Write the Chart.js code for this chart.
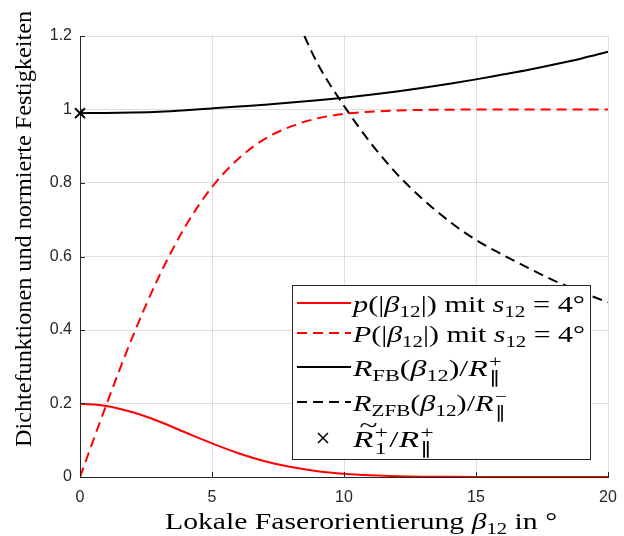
<!DOCTYPE html>
<html>
<head>
<meta charset="utf-8">
<script src="https://cdn.jsdelivr.net/npm/chart.js@4"></script>
<style>body{margin:0;background:#fff}</style>
</head>
<body>
<canvas id="chart" width="624" height="536"></canvas>
<script>
// values
const beta = [0,1,2,3,4,5,6,7,8,9,10,11,12,13,14,15,16,17,18,19,20];
const pDensity = [0.1995,0.1935,0.176,0.151,0.121,0.0915,0.0648,0.0431,0.027,0.0159,0.0088,0.0046,0.0022,0.001,0.0004,0.0002,0.0001,0,0,0,0];
const PDistribution = [0,0.197,0.383,0.547,0.683,0.789,0.866,0.92,0.954,0.976,0.988,0.994,0.997,0.999,0.9995,1,1,1,1,1,1];
const rFB = [0.99,0.9905,0.9918,0.994,0.998,1.003,1.008,1.013,1.019,1.025,1.032,1.04,1.049,1.059,1.07,1.082,1.095,1.108,1.123,1.139,1.157];
const zfbBeta = [8,9,10,11,12,13,14,15,16,17,18,19,20];
const rZFB = [1.28,1.125,1.01,0.91,0.825,0.755,0.695,0.645,0.605,0.568,0.533,0.503,0.475];
const markerBeta = [0];
const markerVal = [0.99];
const xTicks = [0,5,10,15,20];
const yTicks = [0,0.2,0.4,0.6,0.8,1,1.2];
const yTickLabels = ['0','0.2','0.4','0.6','0.8','1','1.2'];

const pts = (xs, ys) => xs.map((x, i) => ({x: x, y: ys[i]}));
const SERIF = '"Liberation Serif"';
const AX = '#262626';

// draws text with sub/superscripts, returns end x
function rich(ctx, x, y, parts, size) {
  for (const p of parts) {
    if (p.sup !== undefined) {
      const fs = size * 0.7;
      ctx.font = fs + 'px ' + SERIF;
      ctx.fillText(p.sup, x + 1, y - size * 0.38);
      ctx.fillText(p.sub, x + 1, y + size * 0.3);
      x += Math.max(ctx.measureText(p.sup).width, ctx.measureText(p.sub).width) + 2;
      continue;
    }
    let fs = size, dy = 0;
    if (p.pos === 'sub') { fs = size * 0.7; dy = size * 0.22; }
    if (p.pos === 'sup') { fs = size * 0.7; dy = -size * 0.38; }
    ctx.font = (p.i ? 'italic ' : '') + fs + 'px ' + SERIF;
    ctx.fillText(p.t, x, y + dy);
    const w = ctx.measureText(p.t).width;
    if (p.tilde) {
      ctx.fillText('~', x + w * 0.3, y - size * 0.6);
    }
    x += w;
  }
  return x;
}

// rich text stretched horizontally to a target width
function richFit(ctx, x, y, parts, size, width) {
  const w = rich(ctx, 0, -5000, parts, size);
  ctx.save();
  ctx.translate(x, y);
  ctx.scale(width / w, 1);
  rich(ctx, 0, 0, parts, size);
  ctx.restore();
}

const legendRows = [
  {color: '#ff0000', dash: [], parts: [{t:'p',i:1},{t:'(|'},{t:'β',i:1},{t:'12',pos:'sub'},{t:'|) mit '},{t:'s',i:1},{t:'12',pos:'sub'},{t:' = 4°'}]},
  {color: '#ff0000', dash: [10,6], parts: [{t:'P',i:1},{t:'(|'},{t:'β',i:1},{t:'12',pos:'sub'},{t:'|) mit '},{t:'s',i:1},{t:'12',pos:'sub'},{t:' = 4°'}]},
  {color: '#000', dash: [], parts: [{t:'R',i:1},{t:'FB',pos:'sub'},{t:'('},{t:'β',i:1},{t:'12',pos:'sub'},{t:')/'},{t:'R',i:1},{sup:'+',sub:'∥'}]},
  {color: '#000', dash: [10,6], parts: [{t:'R',i:1},{t:'ZFB',pos:'sub'},{t:'('},{t:'β',i:1},{t:'12',pos:'sub'},{t:')/'},{t:'R',i:1},{sup:'−',sub:'∥'}]},
  {marker: true, parts: [{t:'R',i:1,tilde:1},{sup:'+',sub:'1'},{t:'/'},{t:'R',i:1},{sup:'+',sub:'∥'}]}
];
const legendRowY = [303, 333, 367, 402, 438];
const legendTextW = [232, 232, 150, 155, 82];

const decor = {
  id: 'decor',
  afterDraw(chart) {
    const ctx = chart.ctx, a = chart.chartArea;
    const xs = chart.scales.x, ys = chart.scales.y;
    ctx.save();
    // inward tick marks
    ctx.strokeStyle = AX; ctx.lineWidth = 1;
    ctx.beginPath();
    xTicks.forEach(v => { const px = Math.round(xs.getPixelForValue(v)) + 0.5; ctx.moveTo(px, a.bottom); ctx.lineTo(px, a.bottom - 5); });
    yTicks.forEach(v => { const py = Math.round(ys.getPixelForValue(v)) + 0.5; ctx.moveTo(a.left, py); ctx.lineTo(a.left + 5, py); });
    ctx.stroke();

    // axis titles
    ctx.fillStyle = '#000';
    ctx.textBaseline = 'alphabetic';
    const xParts = [{t:'Lokale Faserorientierung '},{t:'β',i:1},{t:'12',pos:'sub'},{t:' in °'}];
    richFit(ctx, 165, 529, xParts, 23, 392);

    ctx.save();
    ctx.translate(31, 447);
    ctx.rotate(-Math.PI / 2);
    richFit(ctx, 0, 0, [{t:'Dichtefunktionen und normierte Festigkeiten'}], 23, 436);
    ctx.restore();

    // legend box
    ctx.fillStyle = '#fff';
    ctx.fillRect(292, 285, 299, 175);
    ctx.strokeStyle = AX; ctx.lineWidth = 1;
    ctx.strokeRect(292.5, 285.5, 298, 174);
    legendRows.forEach((row, i) => {
      const y = legendRowY[i];
      if (row.marker) {
        ctx.strokeStyle = '#000'; ctx.lineWidth = 1.5;
        ctx.beginPath();
        ctx.moveTo(318, y - 5); ctx.lineTo(328, y + 5);
        ctx.moveTo(328, y - 5); ctx.lineTo(318, y + 5);
        ctx.stroke();
      } else {
        ctx.strokeStyle = row.color; ctx.lineWidth = 2;
        ctx.setLineDash(row.dash);
        ctx.beginPath(); ctx.moveTo(297, y); ctx.lineTo(351, y); ctx.stroke();
        ctx.setLineDash([]);
      }
      ctx.fillStyle = '#000';
      richFit(ctx, 353, y + 9, row.parts, 24, legendTextW[i]);
    });
    ctx.restore();
  }
};

const lineDs = (label, data, color, dash) => ({
  label: label, data: data, borderColor: color, borderWidth: 2,
  borderDash: dash, pointRadius: 0, fill: false, cubicInterpolationMode: 'monotone'
});

new Chart(document.getElementById('chart'), {
  type: 'line',
  data: {
    datasets: [
      lineDs('p', pts(beta, pDensity), '#ff0000', []),
      lineDs('P', pts(beta, PDistribution), '#ff0000', [10, 6]),
      lineDs('RFB', pts(beta, rFB), '#000000', []),
      lineDs('RZFB', pts(zfbBeta, rZFB), '#000000', [10, 6]),
      {label: 'R1', data: pts(markerBeta, markerVal), showLine: false, pointStyle: 'crossRot',
       pointRadius: 7, borderColor: '#000', borderWidth: 2, clip: false}
    ]
  },
  options: {
    responsive: false,
    animation: false,
    devicePixelRatio: 1,
    layout: {padding: {top: 36, right: 16, left: 0, bottom: 0}},
    plugins: {legend: {display: false}, tooltip: {enabled: false}},
    scales: {
      x: {
        type: 'linear', min: 0, max: 20,
        afterBuildTicks: s => { s.ticks = xTicks.map(v => ({value: v})); },
        afterFit: s => { s.height = 59; s.paddingLeft = 0; s.paddingRight = 0; },
        grid: {color: 'rgba(38,38,38,0.15)', drawTicks: false},
        border: {color: AX, width: 1},
        ticks: {padding: 11, color: AX, font: {family: '"Liberation Sans"', size: 16}, maxRotation: 0}
      },
      y: {
        type: 'linear', min: 0, max: 1.2,
        afterBuildTicks: s => { s.ticks = yTicks.map(v => ({value: v})); },
        afterFit: s => { s.width = 80; s.paddingTop = 0; s.paddingBottom = 0; },
        grid: {color: 'rgba(38,38,38,0.15)', drawTicks: false},
        border: {color: AX, width: 1},
        ticks: {padding: 8, color: AX, font: {family: '"Liberation Sans"', size: 16},
                callback: (v, i) => yTickLabels[i]}
      }
    }
  },
  plugins: [decor]
});
</script>
</body>
</html>
